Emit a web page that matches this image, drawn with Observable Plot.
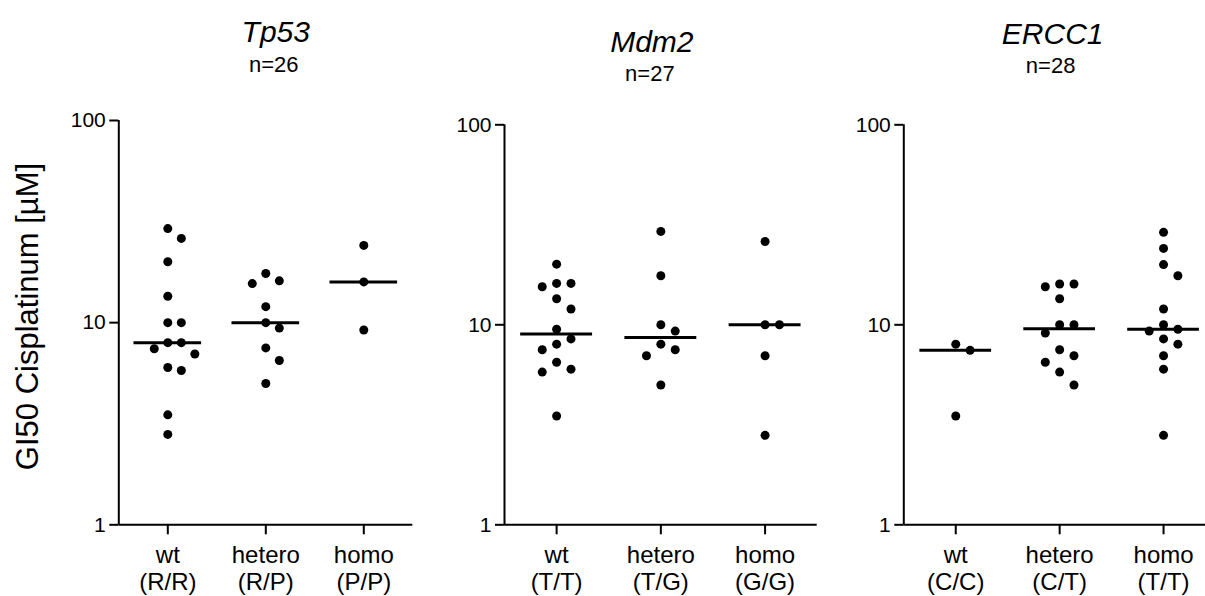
<!DOCTYPE html>
<html><head><meta charset="utf-8">
<script src="https://cdn.jsdelivr.net/npm/d3@7"></script>
<script src="https://cdn.jsdelivr.net/npm/@observablehq/plot@0.6"></script>
<style>
html,body{margin:0;padding:0;background:#fff;overflow:hidden;}
#chart{position:relative;width:1205px;height:596px;overflow:hidden;}
#chart svg{position:absolute;top:0;}
</style></head><body><div id="chart"></div>
<script>
// ---- data ----
const genotypes = ["wt", "hetero", "homo"];
const genes = ["Tp53", "Mdm2", "ERCC1"];
const sampleSizes = [26, 27, 28];
const tp53Alleles = ["(R/R)", "(R/P)", "(P/P)"];
const mdm2Alleles = ["(T/T)", "(T/G)", "(G/G)"];
const ercc1Alleles = ["(C/C)", "(C/T)", "(T/T)"];
const yTickValues = [1, 10, 100];
const yTitle = "GI50 Cisplatinum [µM]";

const tp53Wt = [29.2, 26.1, 20.0, 13.5, 10.0, 10.0, 7.96, 7.96, 7.43, 7.0, 6.0, 5.8, 3.5, 2.8];
const tp53Hetero = [17.5, 16.1, 15.6, 12.0, 10.0, 9.4, 7.5, 6.5, 5.0];
const tp53Homo = [24.1, 15.9, 9.2];
const mdm2Wt = [20.1, 16.1, 16.1, 15.5, 13.5, 12.0, 9.5, 8.5, 8.0, 7.5, 6.5, 6.0, 5.8, 3.5];
const mdm2Hetero = [29.3, 17.6, 10.0, 9.3, 8.0, 7.5, 7.0, 5.0];
const mdm2Homo = [26.1, 10.0, 10.0, 7.0, 2.8];
const ercc1Wt = [8.0, 7.45, 3.5];
const ercc1Hetero = [16.0, 16.0, 15.5, 13.5, 10.0, 10.0, 9.1, 7.5, 7.0, 6.5, 5.8, 5.0];
const ercc1Homo = [29.0, 24.1, 20.0, 17.6, 12.0, 10.0, 9.5, 9.3, 8.5, 8.0, 7.0, 6.0, 2.8];

// ---- layout helpers (scatter-dot column spreading, Prism-like) ----
function spread(values, group) {
  const pts = values.map(v => ({group, value: v, l: Math.log10(v)})).sort((a, b) => b.value - a.value);
  const cands = [0, 1, -1, 2, -2, 3, -3];
  const placed = [];
  for (const p of pts) {
    for (const s of cands) {
      if (!placed.some(q => q.slot === s && Math.abs(q.l - p.l) < 0.065)) { p.slot = s; break; }
    }
    placed.push(p);
  }
  return placed;
}

const SANS = "'Liberation Sans', Arial, Helvetica, sans-serif";

const panels = [
  {gene: genes[0], n: sampleSizes[0], alleles: tp53Alleles, groups: [tp53Wt, tp53Hetero, tp53Homo],
   left: 0, width: 424, marginLeft: 118.3, marginRight: 11.7, marginTop: 120, titleDx: 10, titleY: 41, nY: 71, withYTitle: true},
  {gene: genes[1], n: sampleSizes[1], alleles: mdm2Alleles, groups: [mdm2Wt, mdm2Hetero, mdm2Homo],
   left: 424, width: 400, marginLeft: 80, marginRight: 7.3, marginTop: 124.3, titleDx: -9, titleY: 51, nY: 80},
  {gene: genes[2], n: sampleSizes[2], alleles: ercc1Alleles, groups: [ercc1Wt, ercc1Hetero, ercc1Homo],
   left: 824, width: 391, marginLeft: 79.3, marginRight: 0, marginTop: 124.3, titleDx: -7, titleY: 43, nY: 72}
];

const container = document.getElementById("chart");
const H = 596, MB = 71.7;

for (const p of panels) {
  const points = p.groups.flatMap((vals, i) => spread(vals, i));
  const medians = p.groups.map((vals, i) => ({group: i, median: d3.median(vals)}));
  const frameMidY = (p.marginTop + (H - MB)) / 2;
  const marks = [
    Plot.ruleX([-0.5], {stroke: "black", strokeWidth: 2}),
    Plot.ruleY([1], {stroke: "black", strokeWidth: 2}),
    Plot.axisY({ticks: yTickValues, tickSize: 9, tickPadding: 4, tickFormat: d => String(d),
      fontSize: 21, fontFamily: SANS, strokeWidth: 2, label: null}),
    Plot.axisX({ticks: [0, 1, 2], tickSize: 10, tickPadding: 9,
      tickFormat: i => genotypes[i] + "\n" + p.alleles[i],
      fontSize: 24, fontFamily: SANS, lineHeight: 1.12, strokeWidth: 2, label: null}),
    Plot.ruleY(medians, {y: "median", x1: d => d.group - 0.345, x2: d => d.group + 0.345, stroke: "black", strokeWidth: 3}),
    Plot.dot(points, {x: d => d.group + d.slot * 0.138, y: "value", r: 4.5, fill: "black", stroke: "none"}),
    Plot.text([p.gene], {frameAnchor: "top", dx: p.titleDx, dy: p.titleY - p.marginTop, lineAnchor: "bottom",
      fontSize: 30, fontStyle: "italic", fontFamily: SANS, fill: "black"}),
    Plot.text(["n=" + p.n], {frameAnchor: "top", dx: p.titleDx - 2, dy: p.nY - p.marginTop, lineAnchor: "bottom",
      fontSize: 22, fontFamily: SANS, fill: "black"})
  ];
  if (p.withYTitle) {
    marks.push(Plot.text([yTitle], {frameAnchor: "left", rotate: -90, dx: 37 - p.marginLeft, dy: 316 - frameMidY,
      lineAnchor: "bottom", textAnchor: "middle", fontSize: 31, fontFamily: SANS, fill: "black"}));
  }
  const svg = Plot.plot({
    width: p.width, height: H,
    marginLeft: p.marginLeft, marginRight: p.marginRight, marginTop: p.marginTop, marginBottom: MB,
    x: {type: "linear", domain: [-0.5, 2.5]},
    y: {type: "log", domain: [1, 100]},
    style: {fontFamily: SANS, fontSize: "24px", color: "black", background: "transparent", overflow: "visible"},
    marks
  });
  svg.style.left = p.left + "px";
  container.appendChild(svg);
}
</script></body></html>
